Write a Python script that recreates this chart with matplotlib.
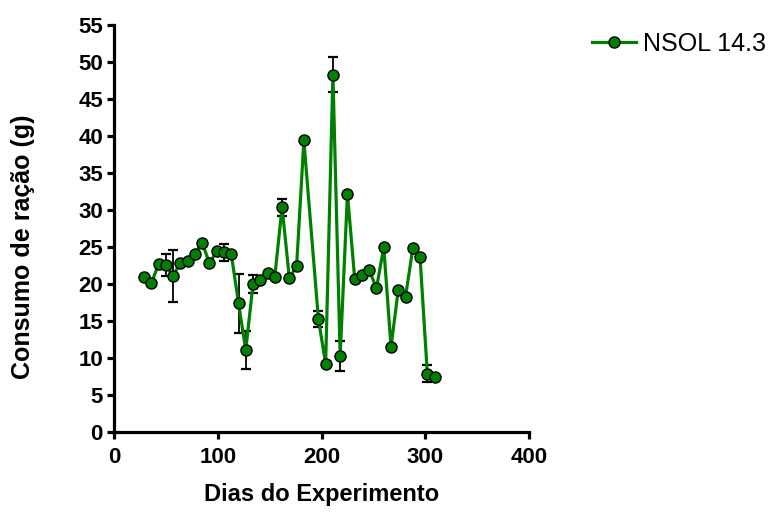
import matplotlib
matplotlib.use("Agg")
import matplotlib.pyplot as plt
import numpy as np

# ============================================================
# Dados
# ============================================================
dias = [29, 36, 43, 50, 57, 64, 71, 78, 85, 92, 99, 106, 113, 120, 127,
        134, 141, 148, 155, 162, 169, 176, 183, 197, 204, 211, 218, 225,
        232, 239, 246, 253, 260, 267, 274, 281, 288, 295, 302, 309]
consumo = [21.0, 20.1, 22.7, 22.6, 21.1, 22.9, 23.1, 24.1, 25.6, 22.8,
           24.4, 24.3, 24.1, 17.4, 11.1, 20.0, 20.6, 21.5, 21.0, 30.4,
           20.8, 22.4, 39.4, 15.3, 9.2, 48.3, 10.3, 32.2, 20.7, 21.2,
           21.9, 19.4, 25.0, 11.5, 19.2, 18.3, 24.8, 23.6, 7.9, 7.4]
# erro padrão (0 = sem barra visível)
erro = [0, 0, 0, 1.5, 3.5, 0, 0, 0, 0, 0,
        0, 1.15, 0, 4.0, 2.6, 1.25, 0, 0, 0, 1.15,
        0, 0, 0, 1.05, 0, 2.35, 2.0, 0, 0, 0,
        0, 0, 0, 0, 0, 0, 0, 0, 1.1, 0]
serie = "NSOL 14.3"

x_ticks = [0, 100, 200, 300, 400]
y_ticks = list(range(0, 56, 5))

# ============================================================
# Estilo
# ============================================================
plt.rcParams['font.family'] = ['Liberation Sans', 'DejaVu Sans']
VERDE = '#008000'

fig = plt.figure(figsize=(7.68, 5.13), dpi=100)
ax = fig.add_axes([114 / 768, 81 / 513, 415 / 768, 407 / 513])

x = np.array(dias)
y = np.array(consumo)
e = np.array(erro)
m = e > 0

# barras de erro (somente onde existem)
ax.errorbar(x[m], y[m], yerr=e[m], fmt='none', ecolor='black',
            elinewidth=1.3, capsize=3.6, capthick=1.6, zorder=2)

ax.plot(x, y, color=VERDE, linewidth=2.3, marker='o', markersize=8,
        markerfacecolor=VERDE, markeredgecolor='black', markeredgewidth=1.0,
        label=serie, zorder=3)

ax.set_xlim(0, 400)
ax.set_ylim(0, 55)
ax.set_xticks(x_ticks)
ax.set_yticks(y_ticks)

for s in ['top', 'right']:
    ax.spines[s].set_visible(False)
for s in ['left', 'bottom']:
    ax.spines[s].set_linewidth(2.3)

ax.tick_params(axis='both', direction='out', length=5, width=2.3,
               labelsize=16)
ax.tick_params(axis='y', pad=3)
ax.tick_params(axis='x', pad=6)
for lbl in ax.get_xticklabels() + ax.get_yticklabels():
    lbl.set_fontweight('bold')

ax.set_xlabel("Dias do Experimento", fontsize=17, fontweight='bold')
ax.set_ylabel("Consumo de ração (g)", fontsize=18, fontweight='bold')
ax.xaxis.set_label_coords(0.5, -0.125)
ax.yaxis.set_label_coords(-0.19, 0.455)

fig.legend(loc='upper left', bbox_to_anchor=(592 / 768, 1 - 32 / 513),
           frameon=False, fontsize=18, handlelength=1.75,
           handletextpad=0.3, borderpad=0, borderaxespad=0)

plt.savefig("out.png", dpi=100)
